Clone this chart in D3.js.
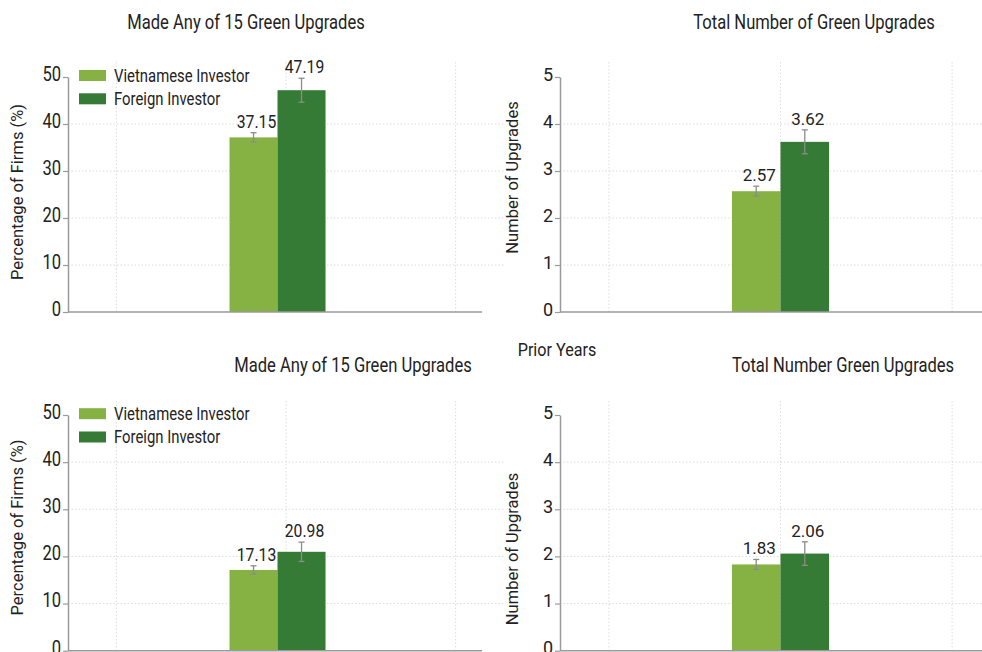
<!DOCTYPE html>
<html>
<head>
<meta charset="utf-8">
<script src="https://cdn.jsdelivr.net/npm/d3@7"></script>
<style>
  html, body { margin: 0; padding: 0; background: #fff; }
  svg { display: block; }
</style>
</head>
<body>
<svg id="chart" width="982" height="652"></svg>
<script>
// ---- data ----
const seriesNames = ["Vietnamese Investor", "Foreign Investor"];
const seriesColors = ["#85b242", "#357a35"];

const panelTitles = [
  "Made Any of 15 Green Upgrades",
  "Total Number of Green Upgrades",
  "Made Any of 15 Green Upgrades",
  "Total Number Green Upgrades"
];
const yTitles = [
  "Percentage of Firms (%)",
  "Number of Upgrades",
  "Percentage of Firms (%)",
  "Number of Upgrades"
];
const sectionLabel = "Prior Years";

// mean values per panel: [Vietnamese, Foreign]
const meanValues = [
  [37.15, 47.19],
  [2.57, 3.62],
  [17.13, 20.98],
  [1.83, 2.06]
];
// half-width of error bars per panel
const errorValues = [
  [1.0, 2.55],
  [0.107, 0.255],
  [0.88, 2.05],
  [0.106, 0.25]
];
const pctTicks = [0, 10, 20, 30, 40, 50];
const numTicks = [0, 1, 2, 3, 4, 5];

// ---- layout ----
const layouts = [
  { left: 68,  right: 504,  axisEnd: 482, top: 62,  yMax: 77,  yZero: 312,   ticks: pctTicks, shift: -0.05, narrow: true,
    titleX: 246, titleY: 29,  yTitleX: 23,  yTitleY: 192, legend: true, legY: 75.5 },
  { left: 560, right: 1001, axisEnd: 1001, top: 62, yMax: 77,  yZero: 312,   ticks: numTicks, shift: 0, narrow: false,
    titleX: 814, titleY: 29,  yTitleX: 518, yTitleY: 177.5, legend: false },
  { left: 68,  right: 504,  axisEnd: 482, top: 401, yMax: 415, yZero: 650.7, ticks: pctTicks, shift: -0.05, narrow: true,
    titleX: 353, titleY: 372, yTitleX: 23,  yTitleY: 527.5, legend: true, legY: 413.7 },
  { left: 560, right: 1001, axisEnd: 1001, top: 401, yMax: 415, yZero: 650.7, ticks: numTicks, shift: 0, narrow: false,
    titleX: 843, titleY: 372, yTitleX: 518, yTitleY: 549, legend: false }
];

const FONT = "Roboto, 'Liberation Sans', sans-serif";
const SQUEEZE = 0.85;   // horizontal compression for the condensed text style
const TEXT = "#222";
const AXIS = "#9a9a9a";
const GRID = "#dcdcdc";
const barWidth = 0.283;
const xGridTicks = [-1, 0, 1];

const svg = d3.select("#chart");

// condensed text placed at (x, y)
function narrowText(parent, x, y, size, anchor, str) {
  return parent.append("text")
    .attr("transform", `translate(${x},${y}) scale(${SQUEEZE},1)`)
    .attr("text-anchor", anchor)
    .attr("font-family", FONT).attr("font-size", size)
    .attr("fill", TEXT)
    .text(str);
}

layouts.forEach((L, i) => {
  const g = svg.append("g");
  const x = d3.scaleLinear().domain([-1.285, 1.285]).range([L.left, L.right]);
  const yMaxTick = d3.max(L.ticks);
  const y = d3.scaleLinear().domain([0, yMaxTick]).range([L.yZero, L.yMax]);

  // vertical dotted gridlines
  g.selectAll("line.vgrid").data(xGridTicks).join("line")
    .attr("class", "vgrid")
    .attr("x1", d => x(d)).attr("x2", d => x(d))
    .attr("y1", L.top).attr("y2", L.yZero)
    .attr("stroke", GRID).attr("stroke-width", 1).attr("stroke-dasharray", "1.5,2");

  // horizontal dotted gridlines
  g.selectAll("line.hgrid").data(L.ticks.filter(t => t > 0 && t < yMaxTick)).join("line")
    .attr("class", "hgrid")
    .attr("x1", L.left).attr("x2", L.right)
    .attr("y1", d => y(d)).attr("y2", d => y(d))
    .attr("stroke", GRID).attr("stroke-width", 1).attr("stroke-dasharray", "1.5,2");

  // bars
  const vals = meanValues[i];
  const errs = errorValues[i];
  const barsData = vals.map((v, k) => ({
    v, e: errs[k], k,
    x0: L.shift + (k - 1) * barWidth,
    x1: L.shift + k * barWidth
  }));
  g.selectAll("rect.bar").data(barsData).join("rect")
    .attr("class", "bar")
    .attr("x", d => x(d.x0))
    .attr("width", d => x(d.x1) - x(d.x0))
    .attr("y", d => y(d.v))
    .attr("height", d => y(0) - y(d.v))
    .attr("fill", d => seriesColors[d.k]);

  // error bars
  const eb = g.selectAll("g.err").data(barsData).join("g").attr("class", "err")
    .attr("stroke", "#8c8c8c").attr("stroke-width", 1.3);
  const cx = d => x((d.x0 + d.x1) / 2);
  eb.append("line")
    .attr("x1", cx).attr("x2", cx)
    .attr("y1", d => y(d.v + d.e)).attr("y2", d => y(d.v - d.e));
  eb.append("line")
    .attr("x1", d => cx(d) - 3).attr("x2", d => cx(d) + 3)
    .attr("y1", d => y(d.v + d.e)).attr("y2", d => y(d.v + d.e));
  eb.append("line")
    .attr("x1", d => cx(d) - 3).attr("x2", d => cx(d) + 3)
    .attr("y1", d => y(d.v - d.e)).attr("y2", d => y(d.v - d.e));

  // value labels
  barsData.forEach(d => {
    const lx = cx(d) + 3, ly = y(d.v + d.e) - 5;
    if (L.narrow) {
      narrowText(g, lx, ly, 18.5, "middle", d.v.toFixed(2));
    } else {
      g.append("text").attr("x", lx).attr("y", ly)
        .attr("text-anchor", "middle")
        .attr("font-family", FONT).attr("font-size", 17)
        .attr("fill", TEXT)
        .text(d.v.toFixed(2));
    }
  });

  // y axis
  const yAxis = d3.axisLeft(y).tickValues(L.ticks).tickFormat(d3.format("d"))
    .tickSize(5).tickSizeOuter(0).tickPadding(2);
  const ya = g.append("g").attr("transform", `translate(${L.left},0)`).call(yAxis);
  ya.select(".domain").attr("stroke", AXIS).attr("stroke-width", 1.5);
  ya.selectAll(".tick line").attr("stroke", AXIS).attr("stroke-width", 1.2);
  const tt = ya.selectAll(".tick text")
    .attr("font-family", FONT)
    .attr("fill", TEXT)
    .attr("dy", "0.17em");
  if (L.narrow) {
    tt.attr("font-size", 19.5)
      .attr("x", -7 / SQUEEZE)
      .attr("transform", `scale(${SQUEEZE},1)`);
  } else {
    tt.attr("font-size", 18);
  }

  // x axis baseline
  g.append("line")
    .attr("x1", L.left).attr("x2", L.axisEnd)
    .attr("y1", y(0)).attr("y2", y(0))
    .attr("stroke", AXIS).attr("stroke-width", 1.5);

  // panel title
  narrowText(g, L.titleX, L.titleY, 19.5, "middle", panelTitles[i]);

  // y axis title
  g.append("text")
    .attr("transform", `translate(${L.yTitleX},${L.yTitleY}) rotate(-90)`)
    .attr("text-anchor", "middle")
    .attr("font-family", FONT).attr("font-size", 16.5)
    .attr("fill", TEXT)
    .text(yTitles[i]);

  // legend
  if (L.legend) {
    seriesNames.forEach((name, k) => {
      const ly = L.legY + k * 23.3;
      g.append("rect").attr("x", 79).attr("y", ly - 5.5).attr("width", 27).attr("height", 11)
        .attr("fill", seriesColors[k]);
      narrowText(g, 114, ly + 6, 17.5, "start", name);
    });
  }
});

// section label between the rows
narrowText(svg, 557, 356, 19, "middle", sectionLabel);
</script>
</body>
</html>
